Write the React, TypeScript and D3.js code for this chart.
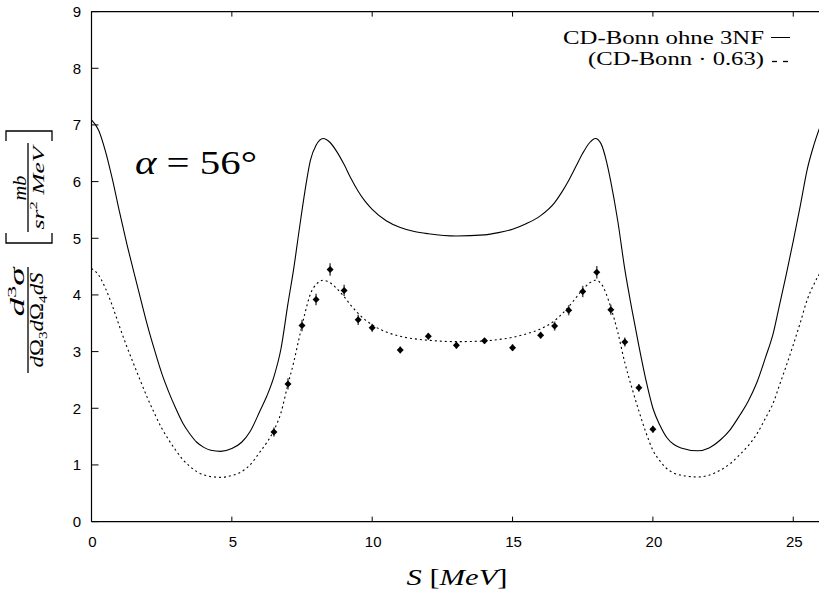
import React from 'react';
import * as d3 from 'd3';

// S grid [MeV] and CD-Bonn (ohne 3NF) cross section [mb/(sr^2 MeV)]
const S_GRID = [0, 0.25, 0.5, 0.75, 1, 1.25, 1.5, 1.75, 2, 2.25, 2.5, 2.75, 3, 3.25, 3.5, 3.75, 4, 4.25, 4.6, 5, 5.35, 5.65, 6, 6.25, 6.5, 6.75, 7, 7.2, 7.4, 7.6, 7.8, 8, 8.25, 8.5, 8.75, 9, 9.25, 9.5, 9.75, 10, 10.5, 11, 11.5, 12, 13, 14, 14.5, 15, 15.5, 16, 16.5, 16.75, 17, 17.25, 17.5, 17.75, 17.95, 18.15, 18.35, 18.5, 18.75, 19, 19.25, 19.5, 19.75, 20, 20.25, 20.5, 20.75, 21, 21.6, 22, 22.4, 22.75, 23.1, 23.4, 23.7, 24, 24.3, 24.5, 24.75, 25, 25.25, 25.5, 25.75, 26];
const CD_BONN = [7.09, 6.91, 6.53, 6.03, 5.46, 4.92, 4.42, 3.93, 3.45, 3.02, 2.62, 2.29, 2.0, 1.74, 1.55, 1.40, 1.31, 1.26, 1.24, 1.29, 1.40, 1.59, 1.95, 2.22, 2.56, 3.05, 3.85, 4.45, 5.15, 5.82, 6.38, 6.64, 6.76, 6.69, 6.52, 6.3, 6.05, 5.83, 5.65, 5.51, 5.31, 5.19, 5.12, 5.08, 5.04, 5.06, 5.1, 5.16, 5.26, 5.4, 5.63, 5.81, 6.02, 6.26, 6.5, 6.69, 6.76, 6.67, 6.35, 6.0, 5.3, 4.45, 3.75, 3.1, 2.5, 2.0, 1.7, 1.48, 1.36, 1.3, 1.25, 1.3, 1.44, 1.62, 1.88, 2.13, 2.45, 2.88, 3.35, 3.8, 4.36, 4.95, 5.57, 6.22, 6.67, 7.03];
const SCALE_FACTOR = 0.63;

// Measured data
const DATA_S = [6.5, 7, 7.5, 8, 8.5, 9, 9.5, 10, 11, 12, 13, 14, 15, 16, 16.5, 17, 17.5, 18, 18.5, 19, 19.5, 20];
const DATA_Y = [1.58, 2.43, 3.46, 3.92, 4.45, 4.08, 3.56, 3.42, 3.03, 3.27, 3.11, 3.19, 3.07, 3.29, 3.45, 3.73, 4.06, 4.40, 3.74, 3.17, 2.36, 1.63];
const DATA_ERR = [0.08, 0.1, 0.1, 0.1, 0.11, 0.1, 0.09, 0.07, 0.06, 0.06, 0.06, 0.05, 0.06, 0.06, 0.08, 0.09, 0.1, 0.11, 0.09, 0.08, 0.07, 0.06];

const X_TICKS = [0, 5, 10, 15, 20, 25];
const Y_TICKS = [0, 1, 2, 3, 4, 5, 6, 7, 8, 9];

const W = 819;
const H = 590;
const LEFT = 91.5;
const TOP = 11.6;
const BOTTOM = 521.6;
const PX_PER_UNIT = 28.07;

export default function App() {
  const x = d3.scaleLinear().domain([0, 26]).range([LEFT, LEFT + 26 * PX_PER_UNIT]);
  const y = d3.scaleLinear().domain([0, 9]).range([BOTTOM, TOP]);

  const solid = S_GRID.map((s, i) => [s, CD_BONN[i]] as [number, number]);
  const scaled = S_GRID.map((s, i) => [s, CD_BONN[i] * SCALE_FACTOR] as [number, number]);
  const line = d3
    .line<[number, number]>()
    .x((d) => x(d[0]))
    .y((d) => y(d[1]))
    .curve(d3.curveMonotoneX);

  const right = x(26);
  const tickFont = "'Liberation Sans', Arial, sans-serif";
  const serif = "'Liberation Serif', 'Times New Roman', serif";

  return (
    <svg width={W} height={H} style={{ position: 'absolute', left: 0, top: 0, background: '#fff' }}>
      <defs>
        <clipPath id="plot">
          <rect x={LEFT} y={TOP} width={right - LEFT} height={BOTTOM - TOP} />
        </clipPath>
      </defs>
      <rect width={W} height={H} fill="#fff" />

      {/* curves */}
      <g clipPath="url(#plot)">
        <path d={line(solid) || ''} fill="none" stroke="#000" strokeWidth={1.1} />
        <path d={line(scaled) || ''} fill="none" stroke="#000" strokeWidth={1.1} strokeDasharray="2,3" />
      </g>

      {/* data points */}
      <g>
        {DATA_S.map((s, i) => {
          const cx = x(s);
          const cy = y(DATA_Y[i]);
          return (
            <g key={i}>
              <line x1={cx} x2={cx} y1={y(DATA_Y[i] - DATA_ERR[i])} y2={y(DATA_Y[i] + DATA_ERR[i])} stroke="#555" strokeWidth={1.6} />
              <path d={`M${cx - 3.5},${cy} L${cx},${cy - 3.5} L${cx + 3.5},${cy} L${cx},${cy + 3.5} Z`} fill="#000" />
            </g>
          );
        })}
      </g>

      {/* frame */}
      <g stroke="#000" strokeWidth={1.2} fill="none">
        <line x1={LEFT} x2={LEFT} y1={TOP} y2={BOTTOM} />
        <line x1={LEFT} x2={right} y1={BOTTOM} y2={BOTTOM} />
        <line x1={LEFT} x2={right} y1={TOP} y2={TOP} />
      </g>

      {/* ticks */}
      <g stroke="#000" strokeWidth={1}>
        {X_TICKS.map((t) => (
          <g key={'xt' + t}>
            <line x1={x(t)} x2={x(t)} y1={BOTTOM} y2={BOTTOM - 5} />
            <line x1={x(t)} x2={x(t)} y1={TOP} y2={TOP + 5} />
          </g>
        ))}
        {Y_TICKS.map((t) => (
          <line key={'yt' + t} x1={LEFT} x2={LEFT + 7} y1={y(t)} y2={y(t)} />
        ))}
      </g>

      {/* tick labels */}
      <g fontFamily={tickFont} fontSize={15} fill="#000">
        {X_TICKS.map((t) => (
          <text key={'xl' + t} x={x(t) + 1} y={BOTTOM + 25} textAnchor="middle">
            {t}
          </text>
        ))}
        {Y_TICKS.map((t) => (
          <text key={'yl' + t} x={81} y={y(t) + 5.3} textAnchor="end">
            {t}
          </text>
        ))}
      </g>

      {/* x axis title */}
      <text x={457} y={585} textAnchor="middle" fontFamily={serif} fontSize={24} textLength={101} lengthAdjust="spacingAndGlyphs">
        <tspan fontStyle="italic">S</tspan> [<tspan fontStyle="italic">MeV</tspan>]
      </text>

      {/* y axis title (rotated) */}
      <g transform="translate(28,0) rotate(-90)" fontFamily={serif} fill="#000">
        <text x={-292} y={-4} textAnchor="middle" fontSize={20} textLength={49} lengthAdjust="spacingAndGlyphs">
          <tspan fontStyle="italic">d</tspan>
          <tspan dy={-8} fontSize={13}>3</tspan>
          <tspan dy={8} fontStyle="italic">σ</tspan>
        </text>
        <line x1={-373} x2={-267} y1={0} y2={0} stroke="#000" strokeWidth={1.3} />
        <text x={-320} y={15} textAnchor="middle" fontSize={18} textLength={95} lengthAdjust="spacingAndGlyphs">
          <tspan fontStyle="italic">d</tspan>Ω<tspan dy={4} fontSize={12}>3</tspan>
          <tspan dy={-4} fontStyle="italic">d</tspan>Ω<tspan dy={4} fontSize={12}>4</tspan>
          <tspan dy={-4} fontStyle="italic">dS</tspan>
        </text>
        <text x={-188} y={-2} textAnchor="middle" fontSize={18} fontStyle="italic" textLength={25} lengthAdjust="spacingAndGlyphs">
          mb
        </text>
        <line x1={-232} x2={-143} y1={0} y2={0} stroke="#000" strokeWidth={1.3} />
        <text x={-188} y={16} textAnchor="middle" fontSize={17} textLength={83} lengthAdjust="spacingAndGlyphs">
          <tspan fontStyle="italic">sr</tspan>
          <tspan dy={-7} fontSize={11}>2</tspan>
          <tspan dy={7} fontStyle="italic"> MeV</tspan>
        </text>
      </g>
      {/* big brackets */}
      <g stroke="#000" strokeWidth={1.3} fill="none">
        <path d="M6,233 L6,243 L52,243 L52,233" />
        <path d="M6,141 L6,131 L52,131 L52,141" />
      </g>

      {/* alpha annotation */}
      <text x={135} y={174} fontFamily={serif} fontSize={34} textLength={122} lengthAdjust="spacingAndGlyphs">
        <tspan fontStyle="italic">α</tspan> = 56°
      </text>

      {/* legend */}
      <g fontFamily={serif} fontSize={18} fill="#000">
        <text x={764} y={44} textAnchor="end" textLength={201} lengthAdjust="spacingAndGlyphs">
          CD-Bonn ohne 3NF
        </text>
        <line x1={771} x2={790} y1={37.5} y2={37.5} stroke="#000" strokeWidth={1} />
        <text x={764} y={65} textAnchor="end" textLength={176} lengthAdjust="spacingAndGlyphs">
          (CD-Bonn · 0.63)
        </text>
        <line x1={772} x2={777} y1={61.5} y2={61.5} stroke="#000" strokeWidth={1.3} />
        <line x1={783} x2={788} y1={61.5} y2={61.5} stroke="#000" strokeWidth={1.3} />
      </g>
    </svg>
  );
}
